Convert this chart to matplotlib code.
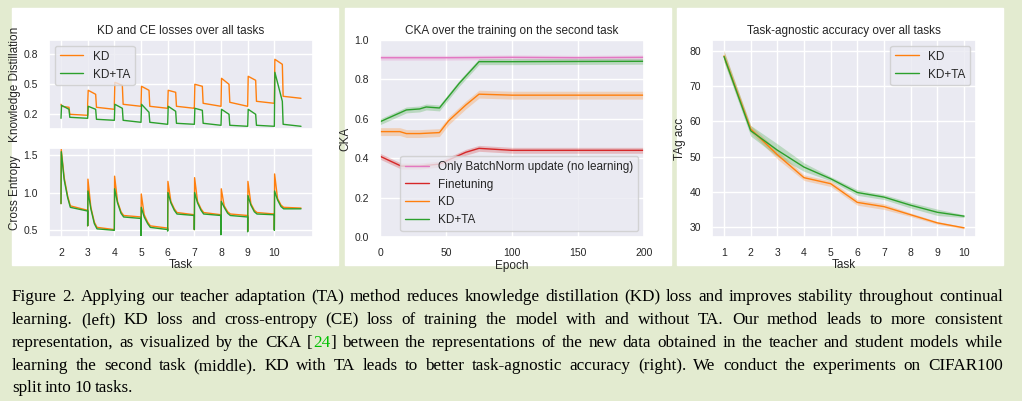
import numpy as np
import matplotlib.pyplot as plt
import seaborn as sns
from matplotlib.patches import Rectangle

sns.set_theme(style="darkgrid")
plt.rcParams['font.family'] = ['Arial', 'Liberation Sans', 'DejaVu Sans']

W, H = 1022, 401
BG = '#e3ebd0'
ORANGE, GREEN, RED, PINK = '#ff7f0e', '#2ca02c', '#d62728', '#e377c2'

# ---- left panel: per-task key values (offset within task -> value)
tasks_kd = [2, 3, 4, 5, 6, 7, 8, 9, 10]
kd_offsets = [0.0, 0.02, 0.30, 0.33, 1.0]
kd_loss = [[0.30, 0.28, 0.27, 0.20, 0.19],
           [0.30, 0.44, 0.40, 0.27, 0.25],
           [0.30, 0.52, 0.49, 0.30, 0.28],
           [0.28, 0.48, 0.44, 0.28, 0.26],
           [0.27, 0.44, 0.42, 0.28, 0.26],
           [0.27, 0.50, 0.48, 0.31, 0.28],
           [0.28, 0.56, 0.50, 0.32, 0.28],
           [0.28, 0.58, 0.54, 0.33, 0.31],
           [0.31, 0.75, 0.70, 0.38, 0.36]]
kdta_loss = [[0.16, 0.29, 0.25, 0.17, 0.16],
             [0.16, 0.28, 0.25, 0.15, 0.14],
             [0.14, 0.30, 0.26, 0.14, 0.12],
             [0.12, 0.30, 0.22, 0.12, 0.10],
             [0.10, 0.28, 0.23, 0.11, 0.10],
             [0.10, 0.26, 0.24, 0.11, 0.09],
             [0.09, 0.25, 0.20, 0.09, 0.08],
             [0.08, 0.25, 0.20, 0.09, 0.08],
             [0.08, 0.62, 0.33, 0.10, 0.08]]
ce_offsets = [0.0, 0.01, 0.12, 0.25, 0.35, 1.0]
ce_kd = [[0.85, 1.58, 1.20, 0.95, 0.82, 0.76],
         [0.55, 1.18, 0.80, 0.60, 0.53, 0.50],
         [0.50, 1.22, 0.88, 0.74, 0.69, 0.67],
         [0.45, 0.98, 0.70, 0.60, 0.55, 0.52],
         [0.50, 1.15, 0.88, 0.78, 0.73, 0.70],
         [0.50, 1.20, 0.88, 0.78, 0.73, 0.70],
         [0.45, 1.05, 0.82, 0.74, 0.71, 0.69],
         [0.48, 1.15, 0.85, 0.76, 0.73, 0.71],
         [0.50, 1.25, 0.92, 0.83, 0.80, 0.79]]
ce_kdta = [[0.85, 1.55, 1.17, 0.93, 0.80, 0.75],
           [0.55, 1.02, 0.78, 0.58, 0.51, 0.49],
           [0.50, 1.05, 0.86, 0.72, 0.67, 0.65],
           [0.42, 0.80, 0.67, 0.58, 0.53, 0.50],
           [0.48, 1.00, 0.86, 0.76, 0.71, 0.69],
           [0.50, 1.00, 0.86, 0.76, 0.71, 0.69],
           [0.43, 0.88, 0.80, 0.72, 0.69, 0.67],
           [0.47, 0.96, 0.83, 0.74, 0.71, 0.70],
           [0.49, 1.02, 0.90, 0.81, 0.78, 0.78]]

# ---- middle panel: CKA
ep_pink = [0, 50, 100, 150, 200]
cka_pink = [0.91, 0.91, 0.912, 0.91, 0.912]
ep_red = [0, 16, 30, 45, 55, 65, 75, 100, 200]
cka_red = [0.41, 0.36, 0.36, 0.37, 0.40, 0.43, 0.45, 0.44, 0.44]
ep_kd = [0, 15, 20, 30, 45, 52, 65, 75, 100, 200]
cka_kd = [0.535, 0.535, 0.525, 0.525, 0.53, 0.59, 0.67, 0.725, 0.72, 0.72]
ep_ta = [0, 15, 20, 30, 35, 45, 60, 75, 100, 200]
cka_ta = [0.585, 0.63, 0.645, 0.65, 0.66, 0.655, 0.78, 0.89, 0.89, 0.892]
cka_band = [0.012, 0.015, 0.02, 0.015]

# ---- right panel: task-agnostic accuracy
tasks = np.arange(1, 11)
tag_kd = [78.5, 57.8, 50.5, 44.0, 42.3, 37.0, 35.8, 33.5, 31.2, 29.8]
tag_ta = [78.3, 57.3, 51.8, 47.0, 43.7, 39.8, 38.5, 36.2, 34.2, 33.1]
tag_kd_err = [1.5, 1.0, 1.2, 0.8, 0.8, 0.8, 0.8, 0.5, 0.4, 0.3]
tag_ta_err = [1.5, 1.5, 1.8, 1.2, 0.6, 0.8, 0.7, 0.8, 0.9, 0.4]

caption = ["Figure 2. Applying our teacher adaptation (TA) method reduces knowledge distillation (KD) loss and improves stability throughout continual",
           "learning. (left) KD loss and cross-entropy (CE) loss of training the model with and without TA. Our method leads to more consistent",
           "representation, as visualized by the CKA [24] between the representations of the new data obtained in the teacher and student models while",
           "learning the second task (middle). KD with TA leads to better task-agnostic accuracy (right). We conduct the experiments on CIFAR100",
           "split into 10 tasks."]


def ax_px(fig, x0, y0, x1, y1):
    return fig.add_axes([x0 / W, 1 - y1 / H, (x1 - x0) / W, (y1 - y0) / H])


def segments(offsets, per_task):
    xs, ys = [], []
    for t, vals in zip(tasks_kd, per_task):
        xs += [t + o for o in offsets]
        ys += vals
    return xs, ys


fig = plt.figure(figsize=(W / 100, H / 100), dpi=100)
fig.patch.set_facecolor(BG)
for x0, x1 in [(12, 338), (345, 671), (677, 1003)]:
    fig.patches.append(Rectangle((x0 / W, 1 - 265 / H), (x1 - x0) / W, 257 / H,
                                 transform=fig.transFigure, color='white', zorder=-10))

fs_t, fs_l = 7.5, 8.5

# left
a1 = ax_px(fig, 49, 40, 313, 129)
x, y = segments(kd_offsets, kd_loss)
a1.plot(x, y, color=ORANGE, lw=1, label='KD')
x, y = segments(kd_offsets, kdta_loss)
a1.plot(x, y, color=GREEN, lw=1, label='KD+TA')
a1.set_ylim(0.053, 0.943)
a1.set_yticks([0.2, 0.5, 0.8])
a1.set_xlim(1.55, 11.45)
a1.set_xticks(tasks_kd)
a1.set_xticklabels([])
a1.set_title('KD and CE losses over all tasks', fontsize=fs_l, pad=4)
a1.set_ylabel('Knowledge Distillation', fontsize=fs_l, labelpad=2)
a1.legend(loc='upper left', fontsize=fs_l)
a2 = ax_px(fig, 49, 148, 313, 237)
x, y = segments(ce_offsets, ce_kd)
a2.plot(x, y, color=ORANGE, lw=1)
x, y = segments(ce_offsets, ce_kdta)
a2.plot(x, y, color=GREEN, lw=1)
a2.set_ylim(0.40, 1.60)
a2.set_yticks([0.5, 1.0, 1.5])
a2.set_xlim(1.55, 11.45)
a2.set_xticks(tasks_kd)
a2.set_xlabel('Task', fontsize=fs_l, labelpad=1)
a2.set_ylabel('Cross Entropy', fontsize=fs_l, labelpad=2)

# middle
b = ax_px(fig, 380, 40, 644, 237)
series = [(ep_pink, cka_pink, PINK, 'Only BatchNorm update (no learning)'),
          (ep_red, cka_red, RED, 'Finetuning'),
          (ep_kd, cka_kd, ORANGE, 'KD'),
          (ep_ta, cka_ta, GREEN, 'KD+TA')]
for (e, v, col, lab), bw in zip(series, cka_band):
    v = np.array(v)
    b.plot(e, v, color=col, lw=1, label=lab)
    b.fill_between(e, v - bw, v + bw, color=col, alpha=0.25, lw=0)
b.set_xlim(0, 200)
b.set_ylim(0, 1)
b.set_xticks([0, 50, 100, 150, 200])
b.set_yticks([0, 0.2, 0.4, 0.6, 0.8, 1.0])
b.set_title('CKA over the training on the second task', fontsize=fs_l, pad=4)
b.set_xlabel('Epoch', fontsize=fs_l, labelpad=1)
b.set_ylabel('CKA', fontsize=fs_l, labelpad=2)
b.legend(loc='lower right', fontsize=fs_l)

# right
c = ax_px(fig, 712, 40, 976, 237)
for v, e, col, lab in [(tag_kd, tag_kd_err, ORANGE, 'KD'), (tag_ta, tag_ta_err, GREEN, 'KD+TA')]:
    v, e = np.array(v), np.array(e)
    c.plot(tasks, v, color=col, lw=1, label=lab)
    c.fill_between(tasks, v - e, v + e, color=col, alpha=0.25, lw=0)
c.set_xlim(0.55, 10.45)
c.set_ylim(27.2, 83)
c.set_xticks(tasks)
c.set_yticks([30, 40, 50, 60, 70, 80])
c.set_title('Task-agnostic accuracy over all tasks', fontsize=fs_l, pad=4)
c.set_xlabel('Task', fontsize=fs_l, labelpad=1)
c.set_ylabel('TAg acc', fontsize=fs_l, labelpad=2)
c.legend(loc='upper right', fontsize=fs_l)

for a in (a1, a2, b, c):
    a.tick_params(labelsize=fs_t, pad=2)

# caption, justified word by word between x=12 and x=1003
serif = dict(family=['Liberation Serif', 'DejaVu Serif'], fontsize=12.3, va='center')
ys = [297, 320, 343, 366, 388]
r = fig.canvas.get_renderer()
for i, (line, yy) in enumerate(zip(caption, ys)):
    pieces = []
    for w in line.split(' '):
        if w.startswith('[24]'):
            pieces.append([('[', 'black'), ('24', '#00c000'), (w[3:], 'black')])
        else:
            pieces.append([(w, 'black')])
    arts, widths = [], []
    for p in pieces:
        group = []
        for s, col in p:
            group.append(fig.text(0, 1 - yy / H, s, color=col, **serif))
        arts.append(group)
        widths.append([t.get_window_extent(r).width for t in group])
    total = sum(sum(wl) for wl in widths)
    if i < len(caption) - 1:
        gap = (1003 - 12 - total) / (len(pieces) - 1)
    else:
        gap = 3.1
    xx = 12
    for group, wl in zip(arts, widths):
        for t, wd in zip(group, wl):
            t.set_x(xx / W)
            xx += wd
        xx += gap

fig.savefig('out.png', dpi=100, facecolor=BG)
